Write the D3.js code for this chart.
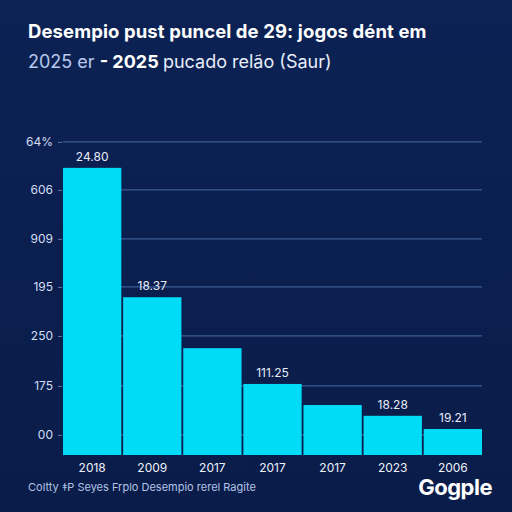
<!DOCTYPE html>
<html><head><meta charset="utf-8">
<script src="https://cdn.jsdelivr.net/npm/d3@7/dist/d3.min.js"></script>
<style>html,body{margin:0;padding:0;background:#0b1e4c;}svg{display:block;}</style>
</head><body>
<svg id="c" width="512" height="512"></svg>
<script>
const categories = ["2018", "2009", "2017", "2017", "2017", "2023", "2006"];
const values = [5.86, 3.22, 2.18, 1.45, 1.02, 0.80, 0.53];
const valueLabels = ["24.80", "18.37", "", "111.25", "", "18.28", "19.21"];
const tickLabels = ["00", "175", "250", "195", "909", "606", "64%"];
const tickValues = [0.41, 1.41, 2.43, 3.43, 4.41, 5.41, 6.39];

const svg = d3.select("#c");
const W = 512, H = 512;
const FONT = "Inter, 'DejaVu Sans', sans-serif";
const defs = svg.append("defs");
const g0 = defs.append("linearGradient").attr("id","bg").attr("x1",0).attr("y1",0).attr("x2",0).attr("y2",1);
g0.append("stop").attr("offset","0%").attr("stop-color","#0c2254");
g0.append("stop").attr("offset","100%").attr("stop-color","#0a1c49");
svg.append("rect").attr("width",W).attr("height",H).attr("fill","url(#bg)");

const m = {left:63, right:30, top:105, bottom:57};
const x = d3.scaleBand().domain(d3.range(categories.length)).range([m.left, W-m.right]).paddingInner(0.03).paddingOuter(0);
const y = d3.scaleLinear().domain([0, 7]).range([H-m.bottom, H-m.bottom-7*49]);

// grid
svg.append("g").selectAll("line").data(tickValues).join("line")
  .attr("x1", m.left).attr("x2", W-m.right)
  .attr("y1", d=>y(d)).attr("y2", d=>y(d))
  .attr("stroke","#3d5c93").attr("stroke-width",1.2);

// y axis
const yAxis = d3.axisLeft(y).tickValues(tickValues).tickFormat((d,i)=>tickLabels[i]).tickSize(4).tickPadding(5);
const ya = svg.append("g").attr("transform",`translate(${m.left-1},0)`).call(yAxis);
ya.select(".domain").remove();
ya.selectAll(".tick line").attr("stroke","#5a76a8");
ya.selectAll("text").attr("fill","#d4def5").style("font-family",FONT).style("font-size","12px");

// bars
svg.append("g").selectAll("rect").data(values).join("rect")
  .attr("x",(d,i)=>x(i)).attr("width",x.bandwidth())
  .attr("y",d=>y(d)).attr("height",d=>y(0)-y(d))
  .attr("fill","#00dbf7");

// value labels
svg.append("g").selectAll("text").data(values).join("text")
  .attr("x",(d,i)=>x(i)+x.bandwidth()/2).attr("y",d=>y(d)-7)
  .attr("text-anchor","middle").attr("fill","#e6ecf8")
  .style("font-family",FONT).style("font-size","12px")
  .text((d,i)=>valueLabels[i]);

// x axis
const xAxis = d3.axisBottom(x).tickFormat(i=>categories[i]).tickSize(0).tickPadding(8);
const xa = svg.append("g").attr("transform",`translate(0,${y(0)})`).call(xAxis);
xa.select(".domain").remove();
xa.selectAll("text").attr("fill","#eef2fb").style("font-family",FONT).style("font-size","12px");

// titles
svg.append("text").attr("x",28).attr("y",38).attr("fill","#ffffff")
  .style("font-family",FONT).style("font-size","18.5px").style("font-weight","700")
  .attr("letter-spacing","0.1")
  .text("Desempio pust puncel de 29: jogos dént em");
const sub = svg.append("text").attr("x",28).attr("y",68)
  .style("font-family",FONT).style("font-size","18px");
sub.append("tspan").attr("fill","#b8c9ec").text("2025 er ");
sub.append("tspan").attr("fill","#ffffff").style("font-weight","700").text("- 2025 ");
sub.append("tspan").attr("fill","#e8eefa").text("pucado relão (Saur)");

// footer
svg.append("text").attr("x",28).attr("y",491).attr("fill","#b3c4e6")
  .style("font-family",FONT).style("font-size","11px")
  .text("Coltty ‡P Seyes Frplo Desempio rerel Ragite");
svg.append("text").attr("x",492).attr("y",495).attr("text-anchor","end").attr("fill","#ffffff")
  .style("font-family",FONT).style("font-size","22px").style("font-weight","700")
  .attr("letter-spacing","-0.5")
  .text("Gogple");
</script>
</body></html>
